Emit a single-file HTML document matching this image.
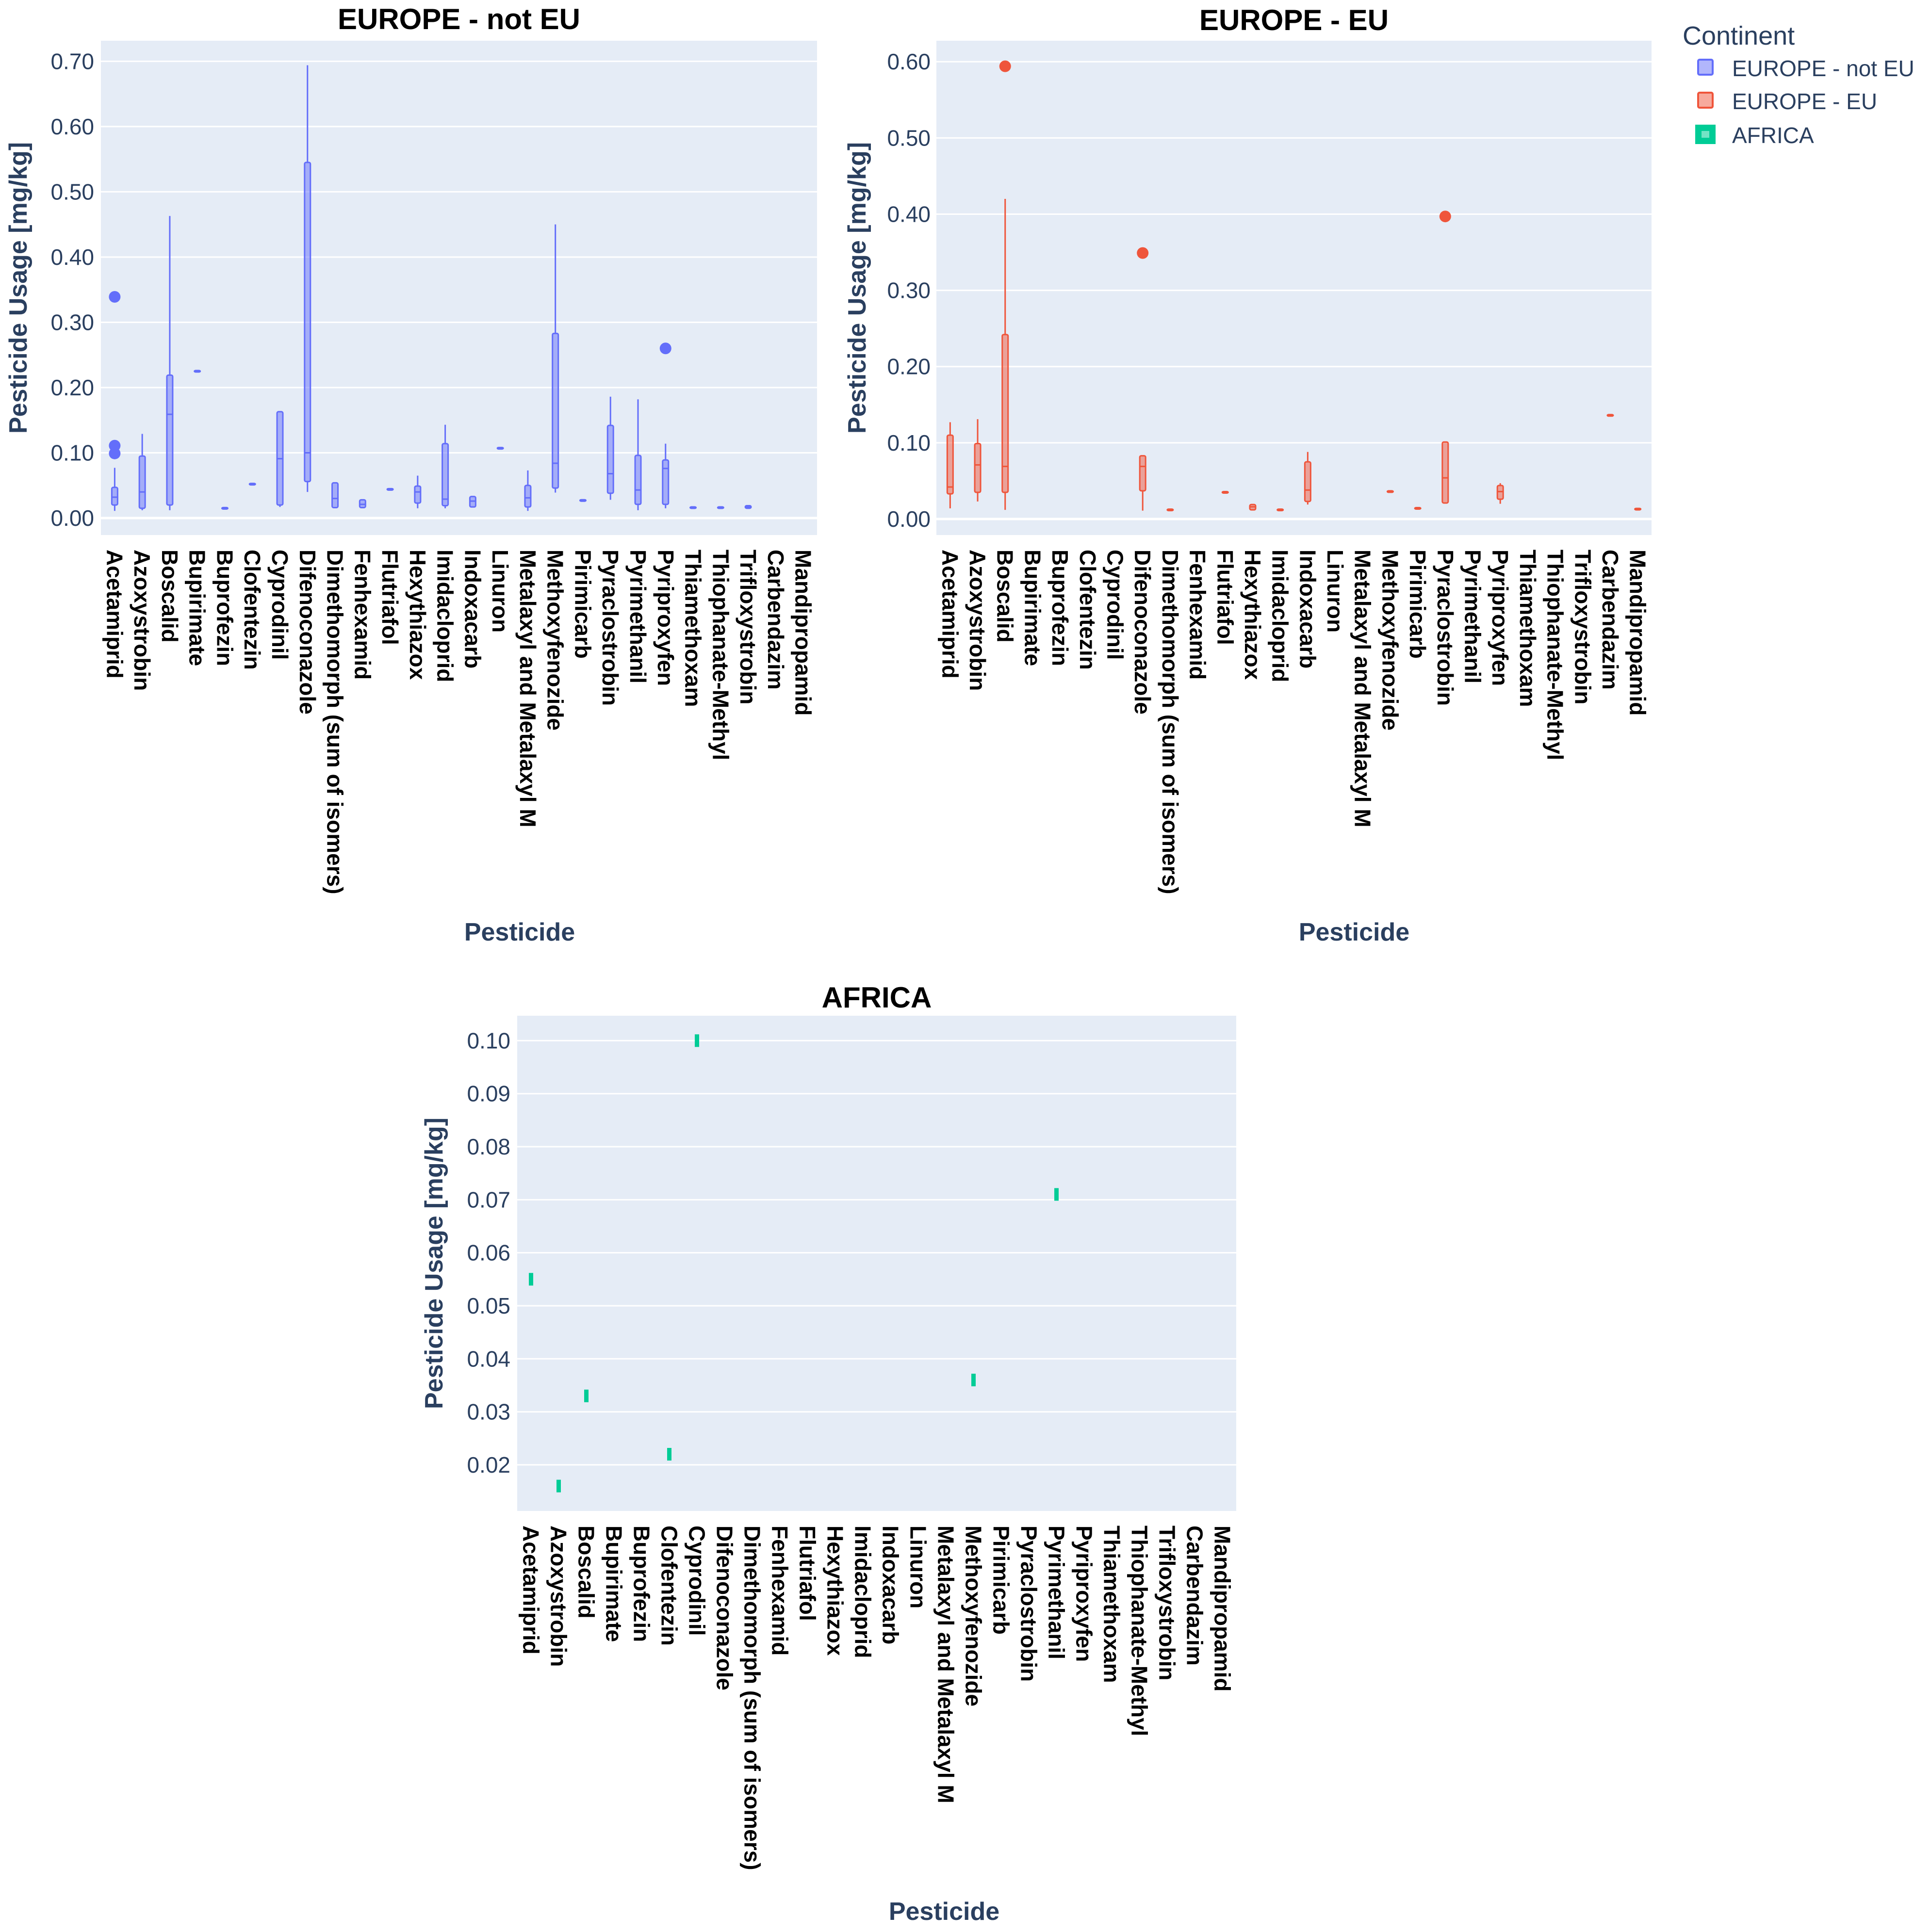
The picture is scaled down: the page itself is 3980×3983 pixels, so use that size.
<!DOCTYPE html>
<html><head><meta charset="utf-8">
<style>
html,body{margin:0;padding:0;background:#fff;}
svg{display:block;font-family:"Liberation Sans",Arial,sans-serif;}
</style></head>
<body>
<svg id="chart" width="3980" height="3983" viewBox="0 0 3980 3983" xmlns="http://www.w3.org/2000/svg">
<rect x="0" y="0" width="3980" height="3983" fill="#ffffff"/>
<g id="legend">
  <text x="3468" y="92" font-size="54" fill="#2a3f5f">Continent</text>
  <g>
    <rect x="3500" y="123" width="30" height="31" rx="3" fill="rgba(99,110,250,0.5)" stroke="#636efa" stroke-width="4"/>
    <text x="3570" y="157" font-size="46" fill="#2a3f5f">EUROPE - not EU</text>
  </g>
  <g>
    <rect x="3500" y="191" width="30" height="31" rx="3" fill="rgba(239,85,59,0.5)" stroke="#EF553B" stroke-width="4"/>
    <text x="3570" y="225" font-size="46" fill="#2a3f5f">EUROPE - EU</text>
  </g>
  <g>
    <rect x="3494" y="257" width="42" height="40" fill="#00cc96"/>
    <rect x="3507" y="270" width="16" height="14" fill="rgba(255,255,255,0.45)"/>
    <text x="3570" y="295" font-size="46" fill="#2a3f5f">AFRICA</text>
  </g>
</g>
</svg>
<script>
const categories = ["Acetamiprid","Azoxystrobin","Boscalid","Bupirimate","Buprofezin","Clofentezin","Cyprodinil","Difenoconazole","Dimethomorph (sum of isomers)","Fenhexamid","Flutriafol","Hexythiazox","Imidacloprid","Indoxacarb","Linuron","Metalaxyl and Metalaxyl M","Methoxyfenozide","Pirimicarb","Pyraclostrobin","Pyrimethanil","Pyriproxyfen","Thiamethoxam","Thiophanate-Methyl","Trifloxystrobin","Carbendazim","Mandipropamid"];

// EUROPE - not EU
const nonEuLow  = [0.011,0.012,0.012,0.225,0.015,0.052,0.017,0.040,0.015,0.016,0.044,0.015,0.015,0.017,0.107,0.011,0.039,0.027,0.028,0.012,0.015,0.016,0.016,0.015,null,null];
const nonEuQ1   = [0.020,0.015,0.020,0.225,0.015,0.052,0.020,0.056,0.016,0.016,0.044,0.023,0.019,0.017,0.107,0.017,0.046,0.027,0.038,0.021,0.021,0.016,0.016,0.015,null,null];
const nonEuMed  = [0.032,0.040,0.159,0.225,0.015,0.052,0.091,0.100,0.030,0.021,0.044,0.040,0.029,0.026,0.107,0.031,0.084,0.027,0.068,0.043,0.076,0.016,0.016,0.017,null,null];
const nonEuQ3   = [0.047,0.095,0.219,0.225,0.015,0.052,0.163,0.545,0.054,0.028,0.044,0.049,0.114,0.033,0.107,0.050,0.283,0.027,0.142,0.096,0.089,0.016,0.016,0.019,null,null];
const nonEuHigh = [0.077,0.129,0.463,0.225,0.015,0.052,0.163,0.694,0.054,0.028,0.044,0.065,0.143,0.033,0.107,0.073,0.450,0.027,0.186,0.182,0.114,0.016,0.016,0.019,null,null];
const nonEuOutlierCat = [0,0,0,20];
const nonEuOutlierVal = [0.339,0.111,0.099,0.260];

// EUROPE - EU
const euLow  = [0.014,0.023,0.012,null,null,null,null,0.011,0.012,null,0.035,0.012,0.012,0.019,null,null,0.036,0.014,0.021,null,0.020,null,null,null,0.136,0.013];
const euQ1   = [0.033,0.035,0.035,null,null,null,null,0.037,0.012,null,0.035,0.012,0.012,0.023,null,null,0.036,0.014,0.021,null,0.026,null,null,null,0.136,0.013];
const euMed  = [0.042,0.071,0.069,null,null,null,null,0.069,0.012,null,0.035,0.016,0.012,0.038,null,null,0.036,0.014,0.054,null,0.036,null,null,null,0.136,0.013];
const euQ3   = [0.110,0.099,0.242,null,null,null,null,0.083,0.012,null,0.035,0.019,0.012,0.075,null,null,0.036,0.014,0.101,null,0.044,null,null,null,0.136,0.013];
const euHigh = [0.127,0.131,0.420,null,null,null,null,0.083,0.012,null,0.035,0.019,0.012,0.088,null,null,0.036,0.014,0.101,null,0.047,null,null,null,0.136,0.013];
const euOutlierCat = [2,7,18];
const euOutlierVal = [0.594,0.349,0.397];

// AFRICA (single observations)
const africaCat = [0,1,2,5,6,16,19];
const africaVal = [0.055,0.016,0.033,0.022,0.100,0.036,0.071];

const nonEuTicks = ["0.00","0.10","0.20","0.30","0.40","0.50","0.60","0.70"];
const euTicks = ["0.00","0.10","0.20","0.30","0.40","0.50","0.60"];
const africaTicks = ["0.02","0.03","0.04","0.05","0.06","0.07","0.08","0.09","0.10"];

const NS = "http://www.w3.org/2000/svg";
const svg = document.getElementById("chart");
const legend = document.getElementById("legend");
function mk(tag, attrs, parent){
  const e = document.createElementNS(NS, tag);
  for (const k in attrs) e.setAttribute(k, attrs[k]);
  (parent||svg).appendChild(e);
  return e;
}

function panel(cfg){
  const g = mk("g", {});
  
  
  svg.insertBefore(g, legend);
  const L=cfg.left, R=cfg.right, T=cfg.top, B=cfg.bottom;
  const y = v => B - (v - cfg.ymin) / (cfg.ymax - cfg.ymin) * (B - T);
  const band = (R - L) / categories.length;
  const x = i => L + band * (i + 0.5);
  const bg = mk("rect", {x:L, y:T, width:R-L, height:B-T, fill:"#e5ecf6"}, g);
  
  
  cfg.ticks.forEach(t => {
    const v = parseFloat(t);
    const gl = mk("line", {x1:L, x2:R, y1:y(v), y2:y(v), stroke:"#ffffff", "stroke-width": (v===0 ? 5 : 3)}, g);
    
    
    const tl = mk("text", {x:cfg.tickX, y:y(v), "text-anchor":"end", "dominant-baseline":"central", "font-size":46, fill:"#2a3f5f"}, g);
    
    
    tl.textContent = t;
  });
  categories.forEach((c, i) => {
    const cx = x(i);
    const tl = mk("text", {transform:`translate(${cx - 16},${B + 30}) rotate(90)`, "font-size":46, "font-weight":"bold", fill:"#000"}, g);
    
    
    tl.textContent = c;
  });
  const title = mk("text", {x:(L+R)/2, y:cfg.titleY, "text-anchor":"middle", "font-size":60, "font-weight":"bold", fill:"#000"}, g);
  
  
  title.textContent = cfg.title;
  const yt = mk("text", {transform:`translate(${cfg.yTitleX},${(T+B)/2}) rotate(-90)`, "text-anchor":"middle", "dominant-baseline":"central", "font-size":52, "font-weight":"bold", fill:"#2a3f5f"}, g);
  
  
  yt.textContent = "Pesticide Usage [mg/kg]";
  const xt = mk("text", {x:cfg.xTitleX, y:cfg.xTitleY, "text-anchor":"middle", "font-size":52, "font-weight":"bold", fill:"#2a3f5f"}, g);
  
  
  xt.textContent = "Pesticide";
  return {g, x, y};
}

function drawBoxes(p, low, q1, med, q3, high, oc, ov, color, fill, name){
  low.forEach((lo, i) => {
    if (lo === null) return;
    const cx = p.x(i);
    const bx = mk("g", {}, p.g);
    
    
    mk("line", {x1:cx, x2:cx, y1:p.y(high[i]), y2:p.y(q3[i]), stroke:color, "stroke-width":3}, bx);
    mk("line", {x1:cx, x2:cx, y1:p.y(q1[i]), y2:p.y(lo), stroke:color, "stroke-width":3}, bx);
    const top = p.y(q3[i]), bot = p.y(q1[i]);
    const h = Math.max(bot - top, 3);
    mk("rect", {x:cx-6, y:(bot-top<3? (top+bot)/2-1.5 : top), width:12, height:h, rx:3, fill:fill, stroke:color, "stroke-width":3}, bx);
    mk("line", {x1:cx-6, x2:cx+6, y1:p.y(med[i]), y2:p.y(med[i]), stroke:color, "stroke-width":3}, bx);
  });
  oc.forEach((c, k) => {
    const o = mk("circle", {cx:p.x(c), cy:p.y(ov[k]), r:12, fill:color}, p.g);
    
    
  });
}

const p1 = panel({name:"europe-not-eu", title:"EUROPE - not EU", left:208, right:1684, top:84, bottom:1103, ymin:-0.026, ymax:0.7315, ticks:nonEuTicks, tickX:194, titleY:60, yTitleX:38, xTitleX:1071, xTitleY:1939});
drawBoxes(p1, nonEuLow, nonEuQ1, nonEuMed, nonEuQ3, nonEuHigh, nonEuOutlierCat, nonEuOutlierVal, "#636efa", "rgba(99,110,250,0.5)", "europe-not-eu");

const p2 = panel({name:"europe-eu", title:"EUROPE - EU", left:1930, right:3404, top:84, bottom:1103, ymin:-0.021, ymax:0.6275, ticks:euTicks, tickX:1918, titleY:62, yTitleX:1767, xTitleX:2791, xTitleY:1939});
drawBoxes(p2, euLow, euQ1, euMed, euQ3, euHigh, euOutlierCat, euOutlierVal, "#EF553B", "rgba(239,85,59,0.5)", "europe-eu");

const p3 = panel({name:"africa", title:"AFRICA", left:1066, right:2548, top:2094, bottom:3115, ymin:0.0113, ymax:0.1047, ticks:africaTicks, tickX:1052, titleY:2077, yTitleX:895, xTitleX:1946, xTitleY:3958});
africaCat.forEach((c, k) => {
  const m = mk("rect", {x:p3.x(c)-4.5, y:p3.y(africaVal[k])-13, width:9, height:26, fill:"#00cc96"}, p3.g);
  
  
});
</script>
</body></html>
